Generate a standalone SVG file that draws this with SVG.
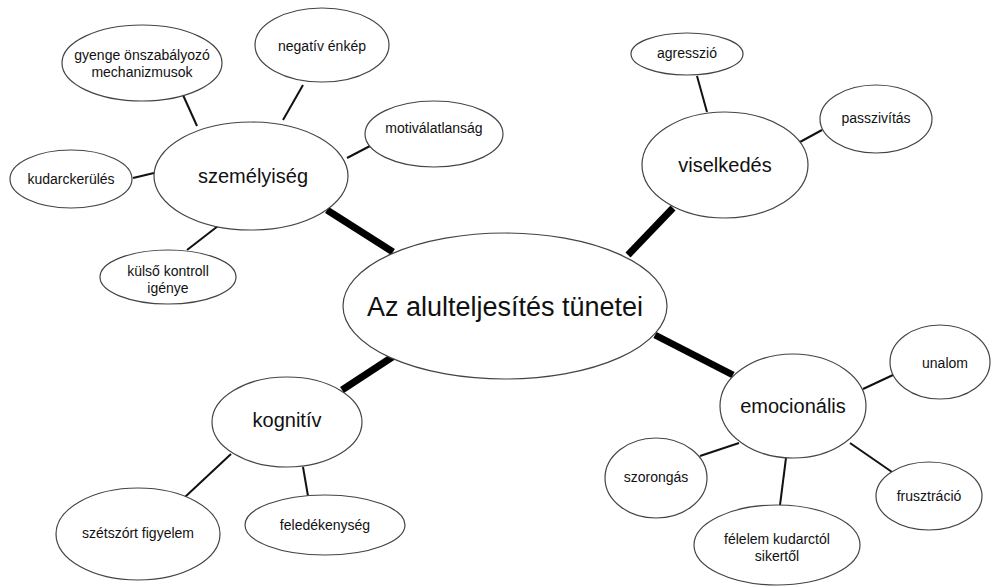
<svg xmlns="http://www.w3.org/2000/svg" width="996" height="587" viewBox="0 0 996 587">
<style>
.n{fill:#fff;stroke:#444;stroke-width:1.2}
.t{font-family:"Liberation Sans",Arial,sans-serif;fill:#111;text-anchor:middle}
.s{font-size:14px}
.m{font-size:20px}
.b{font-size:27px}
.c{stroke:#111;stroke-width:2;fill:none}
.k{stroke:#000;stroke-width:7;fill:none}
</style>
<rect width="996" height="587" fill="#fff"/>
<g id="connectors">
<line class="k" x1="327" y1="210" x2="393" y2="252"/>
<line class="k" x1="673" y1="208" x2="628" y2="255"/>
<line class="k" x1="342" y1="390" x2="400" y2="352"/>
<line class="k" x1="655" y1="335" x2="733" y2="375"/>
<line class="c" x1="183" y1="95" x2="197" y2="126"/>
<line class="c" x1="303" y1="85" x2="283" y2="120"/>
<line class="c" x1="370" y1="146" x2="347" y2="158"/>
<line class="c" x1="133" y1="178" x2="154" y2="173"/>
<line class="c" x1="187" y1="250" x2="218" y2="226"/>
<line class="c" x1="697" y1="76" x2="707" y2="112"/>
<line class="c" x1="822" y1="130" x2="800" y2="142"/>
<line class="c" x1="185" y1="497" x2="231" y2="454"/>
<line class="c" x1="303" y1="467" x2="308" y2="496"/>
<line class="c" x1="863" y1="389" x2="893" y2="375"/>
<line class="c" x1="700" y1="456" x2="739" y2="443"/>
<line class="c" x1="786" y1="458" x2="780" y2="505"/>
<line class="c" x1="850" y1="443" x2="892" y2="472"/>
</g>
<g id="center"><ellipse class="n" cx="505" cy="306" rx="162" ry="73"/><text class="t b" x="505" y="316">Az alulteljesítés tünetei</text></g>
<g id="szemelyiseg"><ellipse class="n" cx="251" cy="176" rx="97" ry="54"/><text class="t m" x="253" y="183">személyiség</text></g>
<g id="gyenge"><ellipse class="n" cx="142" cy="63" rx="80" ry="38"/><text class="t s" x="142" y="60">gyenge önszabályozó</text><text class="t s" x="142" y="77">mechanizmusok</text></g>
<g id="negativ"><ellipse class="n" cx="322" cy="45" rx="67" ry="37"/><text class="t s" x="322" y="51">negatív énkép</text></g>
<g id="motivalatlansag"><ellipse class="n" cx="434" cy="134" rx="69" ry="33"/><text class="t s" x="434" y="133">motiválatlanság</text></g>
<g id="kudarckerules"><ellipse class="n" cx="71" cy="179" rx="61" ry="29"/><text class="t s" x="71" y="184">kudarckerülés</text></g>
<g id="kulso"><ellipse class="n" cx="168" cy="277" rx="68" ry="27"/><text class="t s" x="168" y="276">külső kontroll</text><text class="t s" x="168" y="293">igénye</text></g>
<g id="viselkedes"><ellipse class="n" cx="725" cy="165" rx="83" ry="53"/><text class="t m" x="725" y="172">viselkedés</text></g>
<g id="agresszio"><ellipse class="n" cx="687" cy="54" rx="56" ry="21"/><text class="t s" x="687" y="58">agresszió</text></g>
<g id="passzivitas"><ellipse class="n" cx="876" cy="119" rx="56" ry="34"/><text class="t s" x="876" y="123">passzivítás</text></g>
<g id="kognitiv"><ellipse class="n" cx="287" cy="422" rx="75" ry="45"/><text class="t m" x="287" y="427">kognitív</text></g>
<g id="szetszort"><ellipse class="n" cx="138" cy="534" rx="82" ry="46"/><text class="t s" x="138" y="538">szétszórt figyelem</text></g>
<g id="feledekenyseg"><ellipse class="n" cx="325" cy="525" rx="80" ry="30"/><text class="t s" x="325" y="530">feledékenység</text></g>
<g id="emocionalis"><ellipse class="n" cx="793" cy="406" rx="73" ry="52"/><text class="t m" x="793" y="413">emocionális</text></g>
<g id="unalom"><ellipse class="n" cx="940" cy="362" rx="50" ry="37"/><text class="t s" x="945" y="368">unalom</text></g>
<g id="frusztracio"><ellipse class="n" cx="929" cy="496" rx="53" ry="34"/><text class="t s" x="929" y="501">frusztráció</text></g>
<g id="szorongas"><ellipse class="n" cx="656" cy="478" rx="51" ry="40"/><text class="t s" x="656" y="482">szorongás</text></g>
<g id="felelem"><ellipse class="n" cx="777" cy="545" rx="83" ry="40"/><text class="t s" x="777" y="544">félelem kudarctól</text><text class="t s" x="777" y="561">sikertől</text></g>
</svg>
